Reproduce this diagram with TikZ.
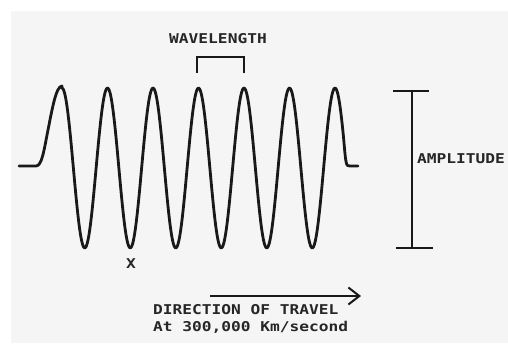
\documentclass[tikz,border=0pt]{standalone}
\usepackage{fontspec}
\newfontfamily\wavefont[FakeStretch=1.2]{DejaVu Sans Mono Bold}
\usetikzlibrary{arrows.meta}
\tikzset{
  wave/.style={line width=2.8pt, line cap=round, line join=round, black!90},
  bar/.style={line width=2.2pt, black!90},
  lbl/.style={font=\wavefont\fontsize{13.5}{16}\selectfont, inner sep=0pt, text=black!85},
}
\begin{document}
\begin{tikzpicture}[x=1pt,y=-1pt]
\useasboundingbox (0,0) rectangle (508,347);
\fill[white] (0,0) rectangle (508,347);
\fill[black!4] (11,11) rectangle (508,343);
% wave
\draw[wave] (19,166) -- (36,166)
  .. controls (42,166) and (44,150) .. (48,130)
  .. controls (52,110) and (56,86) .. (62,86)
  -- plot[domain=62:343.5, samples=300, smooth] (\x, {168 - 80*cos(7.912*(\x-62))})
  .. controls (346,166) .. (350,166) -- (358,166);
% wavelength bracket
\coordinate (wl1) at (197,73);
\coordinate (wl2) at (244,73);
\draw[bar, line width=2pt] (wl1) -- (197,57) -- (244,57) -- (wl2);
\node[lbl] (wavelength) at (218,39) {WAVELENGTH};
% amplitude
\coordinate (atop) at (412,91);
\coordinate (abot) at (412,248);
\draw[bar] (atop) -- (abot);
\draw[bar] (393,91) -- (429,91);
\draw[bar] (396,248) -- (433,248);
\node[lbl, anchor=west] (amplitude) at (417,159) {AMPLITUDE};
% X
\node[lbl] (x) at (131,264) {X};
% direction
\coordinate (d1) at (210,296);
\coordinate (d2) at (361,296);
\draw[bar, line width=2pt, -{Straight Barb[length=11pt, width=17pt, line width=2pt]}] (d1) -- (d2);
\node[lbl, anchor=west] (dir) at (153,310) {DIRECTION OF TRAVEL};
\node[lbl, anchor=west] (speed) at (153,327) {At 300,000 Km/second};
\end{tikzpicture}
\end{document}
